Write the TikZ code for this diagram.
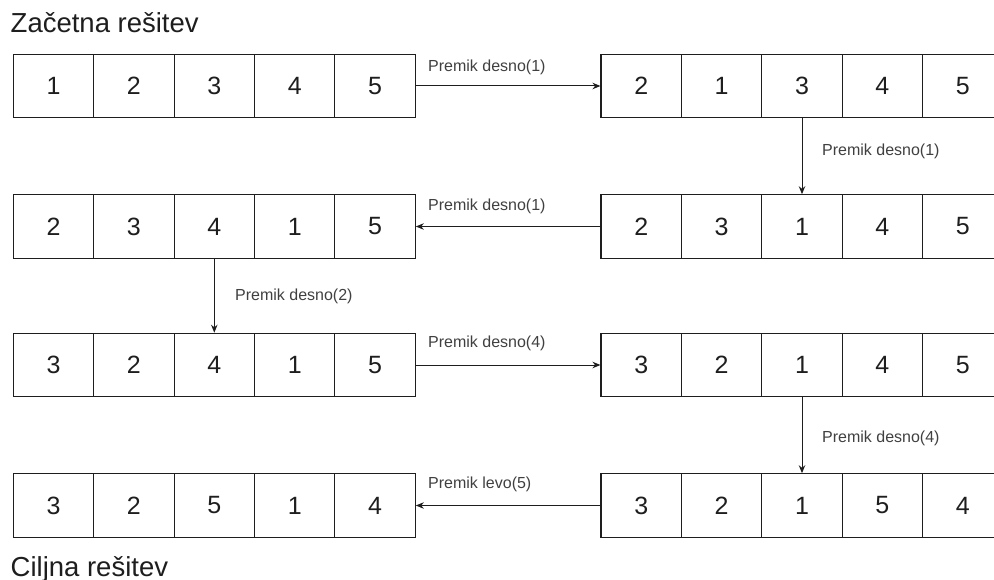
\documentclass[tikz,border=0pt]{standalone}
\usepackage{fontspec}
\setmainfont{Liberation Sans}
\usetikzlibrary{arrows.meta}
\definecolor{ink}{RGB}{30,30,30}
\tikzset{
  cell/.style={draw=ink, line width=1.1pt, minimum width=80.4pt, minimum height=63.5pt,
    inner sep=0pt, text=ink, font=\fontsize{25}{25}\selectfont},
  conn/.style={draw=ink, line width=1pt, -{Stealth[length=8pt,width=6.5pt]}},
  movelabel/.style={anchor=base west, inner sep=0pt, text=ink!85, font=\fontsize{16}{16}\selectfont},
  title/.style={anchor=base west, inner sep=0pt, text=ink, font=\fontsize{27.5}{28}\selectfont}
}
\newcommand{\cellrow}[4]{%
  \foreach \v [count=\i] in {#4} {
    \node[cell] (#1\i) at ({#2+(\i-0.5)*80.4},#3) {\v};
  }%
}
\begin{document}
\begin{tikzpicture}[x=1pt,y=-1pt]
\useasboundingbox (0,0) rectangle (994,580);
\clip (0,0) rectangle (994,580);
\node[title] (t1) at (10.5,33) {Začetna rešitev};
\node[title] (t2) at (10.5,576) {Ciljna rešitev};

\cellrow{A}{13.3}{86}{1,2,3,4,5}
\cellrow{B}{601}{86}{2,1,3,4,5}
\cellrow{C}{601}{226.5}{2,3,1,4,5}
\cellrow{D}{13.3}{226.5}{2,3,4,1,5}
\cellrow{E}{13.3}{365}{3,2,4,1,5}
\cellrow{F}{601}{365}{3,2,1,4,5}
\cellrow{G}{601}{505.5}{3,2,1,5,4}
\cellrow{H}{13.3}{505.5}{3,2,5,1,4}

\draw[conn] (A5.east) -- (B1.west);
\draw[conn] (B3.south) -- (C3.north);
\draw[conn] (C1.west) -- (D5.east);
\draw[conn] (D3.south) -- (E3.north);
\draw[conn] (E5.east) -- (F1.west);
\draw[conn] (F3.south) -- (G3.north);
\draw[conn] (G1.west) -- (H5.east);

\node[movelabel] (l1) at (428,72) {Premik desno(1)};
\node[movelabel] (l2) at (822,156) {Premik desno(1)};
\node[movelabel] (l3) at (428,210.5) {Premik desno(1)};
\node[movelabel] (l4) at (235,301) {Premik desno(2)};
\node[movelabel] (l5) at (428,348) {Premik desno(4)};
\node[movelabel] (l6) at (822,442) {Premik desno(4)};
\node[movelabel] (l7) at (428,488) {Premik levo(5)};
\end{tikzpicture}
\end{document}
